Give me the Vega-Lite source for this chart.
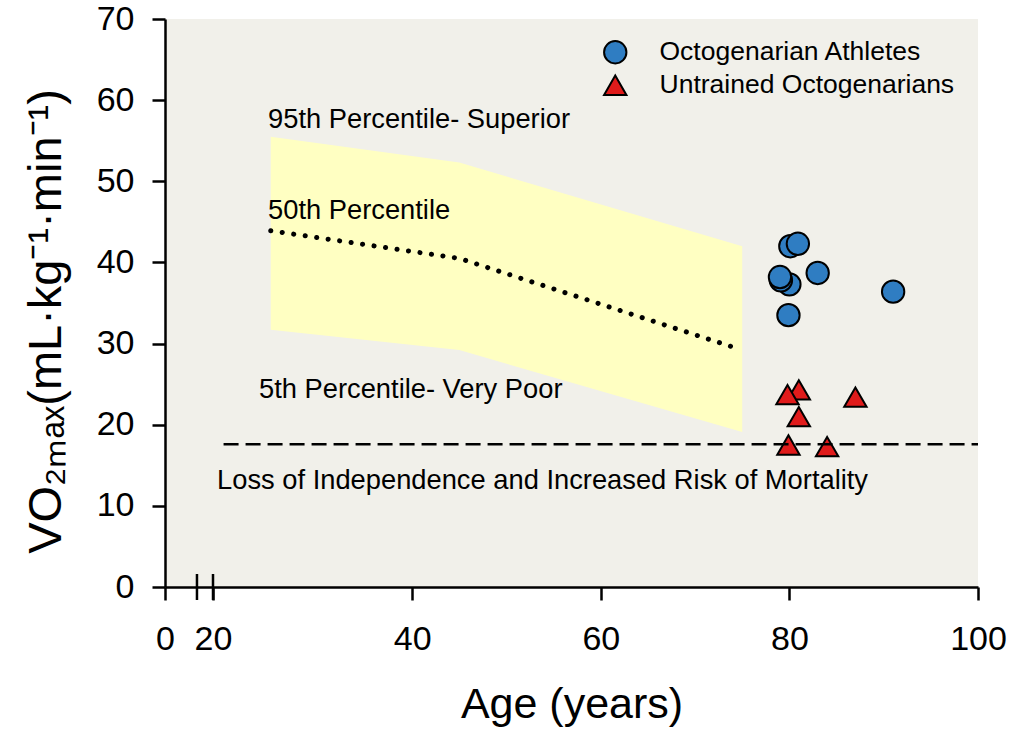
{
  "$schema": "https://vega.github.io/schema/vega-lite/v6.json",
  "width": 813,
  "height": 568,
  "autosize": {"type": "none"},
  "padding": {"left": 165, "top": 19, "right": 35, "bottom": 148},
  "background": "white",
  "config": {
    "view": {"fill": "#F1F0EA", "stroke": null},
    "font": "Liberation Sans",
    "axis": {
      "domainColor": "black", "domainWidth": 2.5, "tickColor": "black", "tickWidth": 2.5,
      "tickSize": 13, "labelFontSize": 34, "labelColor": "black", "labelFont": "Liberation Sans",
      "titleFont": "Liberation Sans", "titleFontWeight": "normal", "titleColor": "black", "grid": false,
      "labelFlush": false, "labelOverlap": false
    },
    "legend": {
      "labelFont": "Liberation Sans", "labelFontSize": 26.5, "labelColor": "black", "labelLimit": 0,
      "symbolSize": 500, "symbolStrokeColor": "black", "symbolStrokeWidth": 2,
      "labelOffset": 31, "rowPadding": 3
    }
  },
  "encoding": {
    "x": {
      "field": "x", "type": "quantitative",
      "scale": {"domain": [13.79, 100], "nice": false, "zero": false},
      "axis": {
        "values": [13.79, 18.88, 40, 60, 80, 100],
        "labelExpr": "datum.value < 15 ? '0' : datum.value < 19 ? '20' : format(datum.value, 'd')",
        "labelPadding": 22,
        "title": "Age (years)", "titleFontSize": 43, "titleBaseline": "alphabetic", "titleY": 130
      }
    },
    "y": {
      "field": "y", "type": "quantitative",
      "scale": {"domain": [0, 70], "nice": false},
      "axis": {
        "values": [0, 10, 20, 30, 40, 50, 60, 70],
        "labelPadding": 18,
        "title": "VO₂ₘₐₓ(mL·kg⁻¹·min⁻¹)", "titleFontSize": 47,
        "titleBaseline": "alphabetic", "titleAlign": "center", "titleAngle": -90,
        "titleX": -105, "titleY": 302
      }
    }
  },
  "layer": [
    {
      "data": {"values": [
        {"x": 25, "y": 55.5, "y2": 31.7},
        {"x": 45, "y": 52.3, "y2": 29.2},
        {"x": 75, "y": 42.0, "y2": 19.1}
      ]},
      "mark": {"type": "area", "color": "#FFFFC2", "opacity": 1},
      "encoding": {"y2": {"field": "y2"}}
    },
    {
      "data": {"values": [
        {"x": 25, "y": 43.9},
        {"x": 45, "y": 40.5},
        {"x": 74.2, "y": 29.5}
      ]},
      "mark": {"type": "line", "color": "black", "strokeWidth": 5, "strokeDash": [0.1, 11.5], "strokeCap": "round"},
      "encoding": {}
    },
    {
      "data": {"values": [
        {"x": 80.1, "y": 42.0, "group": "Octogenarian Athletes"},
        {"x": 80.9, "y": 42.3, "group": "Octogenarian Athletes"},
        {"x": 83.0, "y": 38.7, "group": "Octogenarian Athletes"},
        {"x": 80.0, "y": 37.3, "group": "Octogenarian Athletes"},
        {"x": 79.1, "y": 37.8, "group": "Octogenarian Athletes"},
        {"x": 79.0, "y": 38.2, "group": "Octogenarian Athletes"},
        {"x": 91.0, "y": 36.4, "group": "Octogenarian Athletes"},
        {"x": 79.9, "y": 33.5, "group": "Octogenarian Athletes"},
        {"x": 81.0, "y": 24.3, "group": "Untrained Octogenarians"},
        {"x": 79.8, "y": 23.7, "group": "Untrained Octogenarians"},
        {"x": 87.0, "y": 23.4, "group": "Untrained Octogenarians"},
        {"x": 81.0, "y": 21.0, "group": "Untrained Octogenarians"},
        {"x": 79.9, "y": 17.5, "group": "Untrained Octogenarians"},
        {"x": 84.0, "y": 17.3, "group": "Untrained Octogenarians"}
      ]},
      "mark": {"type": "point", "filled": true, "stroke": "black", "strokeWidth": 2, "size": 500, "opacity": 1},
      "encoding": {
        "color": {
          "field": "group", "type": "nominal",
          "scale": {"domain": ["Octogenarian Athletes", "Untrained Octogenarians"], "range": ["#2F7DC2", "#E01B1B"]},
          "legend": {"title": null, "orient": "none", "legendX": 437, "legendY": 20}
        },
        "shape": {
          "field": "group", "type": "nominal",
          "scale": {"domain": ["Octogenarian Athletes", "Untrained Octogenarians"], "range": ["circle", "triangle-up"]},
          "legend": {"title": null, "orient": "none", "legendX": 437, "legendY": 20}
        }
      }
    },
    {
      "data": {"values": [{"x": 20, "x2": 100, "y": 17.6}]},
      "mark": {"type": "rule", "color": "black", "strokeWidth": 2.5, "strokeDash": [15, 7]},
      "encoding": {"x2": {"field": "x2"}}
    },
    {
      "data": {"values": [
        {"x": 17.18, "y": -1.6, "y2": 1.6},
        {"x": 18.88, "y": -1.6, "y2": 1.6}
      ]},
      "mark": {"type": "rule", "color": "black", "strokeWidth": 2.5, "clip": false},
      "encoding": {"y2": {"field": "y2"}}
    },
    {
      "data": {"values": [
        {"x": 24.72, "y": 56.57, "label": "95th Percentile- Superior"},
        {"x": 24.72, "y": 45.35, "label": "50th Percentile"},
        {"x": 23.76, "y": 23.29, "label": "5th Percentile- Very Poor"},
        {"x": 19.31, "y": 12.08, "label": "Loss of Independence and Increased Risk of Mortality"}
      ]},
      "mark": {"type": "text", "align": "left", "baseline": "alphabetic", "fontSize": 27.3, "font": "Liberation Sans", "color": "black"},
      "encoding": {"text": {"field": "label"}}
    }
  ]
}
